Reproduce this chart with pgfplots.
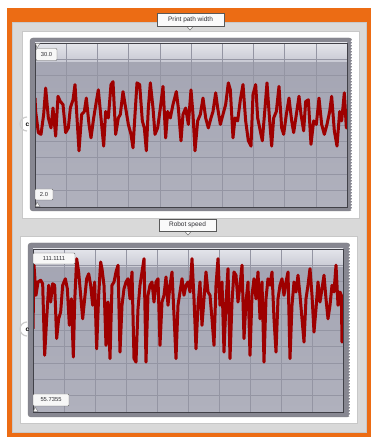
\documentclass[border=0pt]{standalone}
\usepackage{fontspec}
\setmainfont{Liberation Sans}
\usepackage{pgfplots}
\pgfplotsset{compat=1.18}
\usetikzlibrary{decorations.pathmorphing}
\definecolor{orng}{RGB}{236,108,20}
\definecolor{panel}{RGB}{217,217,217}
\definecolor{panelb}{RGB}{200,200,200}
\definecolor{plotbgtop}{RGB}{163,164,178}
\definecolor{plotbgbot}{RGB}{176,177,189}
\definecolor{bandtop}{RGB}{228,229,235}
\definecolor{bandbot}{RGB}{200,201,211}
\definecolor{gridc}{RGB}{148,149,163}
\definecolor{linec}{RGB}{158,0,0}
\definecolor{framec}{RGB}{135,135,145}
\definecolor{framed}{RGB}{65,65,72}
\definecolor{lblc}{RGB}{45,45,50}

\pgfplotsset{graphmap/.style={scale only axis, axis line style={draw=none},
  tick style={draw=none}, xticklabels={}, yticklabels={}, grid=major,
  grid style={gridc, line width=0.6pt}, major tick length=0pt, clip=true}}
\tikzset{lbl/.style={draw=gray!80!black, fill=white!94!gray, rounded corners=1pt,
  inner sep=1.2pt, text=lblc, font=\fontsize{5.8}{6}\selectfont},
  ttl/.style={draw=gray!70!black, fill=white!96!gray, inner sep=1.6pt,
  text=lblc, font=\fontsize{6.5}{7}\selectfont}}

\begin{document}
\begin{tikzpicture}[x=1pt,y=1pt]
\useasboundingbox (0,0) rectangle (371,438);
\fill[white] (0,0) rectangle (371,438);
\fill[orng] (7,1) rectangle (371,430);
\fill[panel, draw=panelb] (12,6) rectangle (366,416);
% white boxes
\fill[white, draw=panelb] (22,220) rectangle (359,407);
\fill[white, draw=panelb] (20,15) rectangle (357,202);
% frames
\fill[framec, draw=framed!70, rounded corners=3pt] (30,227) rectangle (352,400);
\fill[framec, draw=framed!70, rounded corners=3pt] (28,21) rectangle (350,195);
\draw[white, line width=1.2pt, decorate, decoration={zigzag, segment length=3pt, amplitude=1pt}] (352.5,228) -- (352.5,399);
\draw[white, line width=1.2pt, decorate, decoration={zigzag, segment length=3pt, amplitude=1pt}] (350.5,22) -- (350.5,194);
% plot backgrounds
\shade[top color=plotbgtop, bottom color=plotbgbot] (35,231) rectangle (347,395);
\shade[top color=bandtop, bottom color=bandbot] (35,376) rectangle (347,395);
\shade[top color=plotbgtop, bottom color=plotbgbot] (33,26) rectangle (343,189);
\shade[top color=bandtop, bottom color=bandbot] (33,171) rectangle (343,189);

\begin{axis}[graphmap, at={(35pt,231pt)}, anchor=south west, width=312pt, height=164pt,
  xmin=6, xmax=942, ymin=2, ymax=30,
  xtick={99.6,193.2,286.8,380.4,474,567.6,661.2,754.8,848.4},
  ytick={4.8,7.6,10.4,13.2,16,18.8,21.6,24.4,27.2}]
\addplot[linec, line width=3pt, line join=round, line cap=round] table {
6 20.6
8 18.3
16 14.7
24 14.4
32 17.8
38 22.3
46 17.2
54 15.5
60 18.9
68 14.1
75 20.9
82 20.0
90 19.5
98 14.7
106 15.5
112 18.9
120 20.3
126 22.9
132 17.2
138 11.6
146 17.8
154 18.3
160 20.6
168 16.1
174 13.8
182 17.2
190 20.0
196 22.0
204 17.2
212 12.4
218 18.3
226 17.2
234 22.9
240 23.4
248 14.4
256 17.2
262 17.8
270 21.7
278 18.9
286 16.1
294 14.4
300 12.1
306 17.8
312 23.2
320 22.9
328 16.7
334 15.5
340 11.6
346 18.9
352 23.2
360 18.9
366 14.4
374 15.5
382 18.9
390 22.6
398 13.8
404 18.3
412 17.2
420 19.5
430 21.7
436 18.9
444 13.3
450 17.8
458 18.9
466 16.1
474 22.0
480 17.8
486 11.6
494 16.7
502 17.8
510 20.6
518 17.2
526 15.5
534 17.2
540 18.3
548 21.5
554 18.9
562 16.1
570 17.8
578 19.5
586 23.2
592 22.0
600 13.8
606 17.2
614 16.7
622 20.3
630 22.9
638 16.7
646 13.3
654 12.4
660 21.2
668 22.9
674 17.2
680 15.5
688 13.3
696 18.9
702 23.2
710 16.7
716 12.4
722 17.2
730 18.3
738 22.6
746 15.5
752 14.4
760 17.8
768 20.6
776 16.7
782 14.7
790 17.8
798 20.9
804 17.8
812 15.0
818 20.0
826 20.3
834 12.7
842 16.7
850 16.1
858 20.6
866 16.1
874 14.4
882 16.1
890 18.3
896 20.9
904 15.0
912 12.4
920 18.3
926 16.7
934 21.5
940 15.5
};
\end{axis}

\begin{axis}[graphmap, at={(33pt,26pt)}, anchor=south west, width=310pt, height=163pt,
  xmin=15, xmax=945, ymin=55.7355, ymax=111.1111,
  xtick={108,201,294,387,480,573,666,759,852},
  ytick={61.273,66.811,72.348,77.886,83.424,88.961,94.499,100.036,105.574}]
\addplot[linec, line width=3pt, line join=round, line cap=round] table {
15 84.1
18 105.6
24 95.4
30 99.9
38 100.5
44 99.3
50 75.0
56 87.4
62 98.8
68 93.1
74 99.3
80 98.8
86 80.7
92 87.4
98 89.7
104 98.8
112 101.0
118 97.6
124 85.2
130 94.2
136 74.4
140 93.1
146 107.8
152 103.3
158 95.4
164 87.4
170 94.2
176 101.0
182 102.7
188 98.8
194 92.0
200 99.9
206 77.2
212 95.4
218 106.7
222 104.4
228 98.8
234 78.4
240 93.1
246 73.9
252 98.8
258 99.9
264 103.3
270 105.6
276 76.1
282 92.0
288 97.6
294 99.9
300 101.0
306 94.2
312 103.3
318 73.9
324 72.7
330 90.8
336 98.8
342 103.3
348 107.8
354 72.7
360 95.4
366 98.8
372 99.9
378 93.1
384 99.9
390 101.0
396 78.4
402 93.1
408 95.4
414 101.6
420 92.0
426 98.8
432 103.3
438 88.6
444 73.9
450 92.0
456 96.5
462 101.0
468 95.4
474 98.8
480 99.9
486 96.5
492 107.8
498 94.2
504 77.2
510 92.0
516 99.9
522 85.2
528 94.2
534 103.3
540 96.5
546 95.4
552 87.4
558 78.4
564 98.8
570 107.8
576 92.0
582 99.9
588 76.1
594 93.1
600 104.4
606 73.9
612 93.1
618 103.3
624 102.2
630 93.1
636 98.8
642 105.6
648 80.7
654 93.1
660 99.9
666 75.0
672 95.4
678 101.0
684 94.2
690 103.3
696 87.4
702 99.9
708 72.7
714 94.2
720 101.0
726 98.8
732 103.3
738 87.4
744 76.1
750 94.2
756 98.8
762 101.0
768 95.4
774 99.9
780 103.3
786 73.9
792 92.0
798 99.9
804 96.5
810 102.2
816 95.4
822 87.4
828 79.5
834 94.2
840 98.8
846 104.4
852 95.4
858 82.9
864 90.8
870 99.9
876 93.1
882 97.6
888 102.2
894 94.2
900 87.4
906 92.0
912 98.8
918 96.5
924 105.6
930 92.0
936 96.5
940 95.4
942 79.5
};
\end{axis}

% inner frame lines
\draw[framed, line width=0.9pt] (35,231) rectangle (347,395);
\draw[framed, line width=0.9pt] (33,26) rectangle (343,189);

% value labels
\fill[white!94!gray, draw=gray!80!black] (35.5,394.5) -- (40,394.5) -- (37,390) -- cycle;
\node[lbl, minimum width=21pt, minimum height=12pt] at (46.5,383.5) {30.0};
\fill[white!94!gray, draw=gray!80!black] (35.5,231.5) -- (40,231.5) -- (37,236) -- cycle;
\node[lbl, minimum width=18pt, minimum height=11pt] at (44,243.5) {2.0};
\node[lbl, minimum width=42pt, minimum height=11pt] at (54,179.5) {111.1111};
\fill[white!94!gray, draw=gray!80!black] (33.5,26.5) -- (38,26.5) -- (35,31) -- cycle;
\node[lbl, minimum width=36pt, minimum height=12pt] at (51,38) {55.7355};

% titles
\fill[white!96!gray, draw=gray!70!black] (186,412.5) -- (194,412.5) -- (190,408) -- cycle;
\node[ttl, minimum width=67pt, minimum height=13pt] at (190.5,418.5) {Print path width};
\fill[white!96!gray, draw=gray!70!black] (184,207.5) -- (192,207.5) -- (188,203) -- cycle;
\node[ttl, minimum width=57pt, minimum height=12pt] at (187.5,213) {Robot speed};

% input grips
\draw[gray!40, line width=1.2pt] (27,321) arc (90:270:7);
\node[font=\bfseries\fontsize{6.5}{6}\selectfont, inner sep=0pt] at (27.5,313) {c};
\draw[gray!40, line width=1.2pt] (27,116) arc (90:270:7);
\node[font=\bfseries\fontsize{6.5}{6}\selectfont, inner sep=0pt] at (27.5,108) {c};
\end{tikzpicture}
\end{document}
